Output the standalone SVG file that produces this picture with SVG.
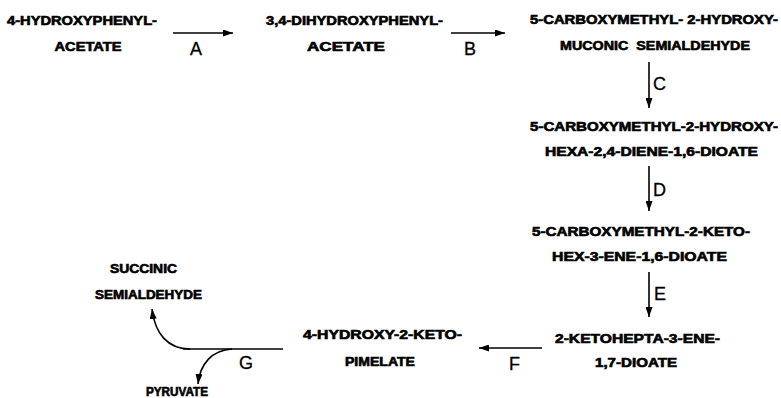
<svg xmlns="http://www.w3.org/2000/svg" width="781" height="398" viewBox="0 0 781 398">
<style>
.t{font-family:"Liberation Sans",Arial,sans-serif;font-weight:bold;font-size:12px;text-anchor:middle;fill:#000;stroke:#000;stroke-width:0.6}
.l{font-family:"Liberation Sans",Arial,sans-serif;font-size:18px;fill:#000;stroke:#000;stroke-width:0.3}
.c{stroke:#000;stroke-width:1.6;fill:none}
</style>
<defs>
<marker id="ah" markerUnits="userSpaceOnUse" markerWidth="10" markerHeight="7" refX="10" refY="3.5" orient="auto">
<path d="M0,0 L10,3.5 L0,7 z" fill="#000"/>
</marker>
</defs>
<rect width="781" height="398" fill="#fff"/>
<g id="n1"><text class="t" x="82" y="25" textLength="150" lengthAdjust="spacingAndGlyphs">4-HYDROXYPHENYL-</text><text class="t" x="88" y="51" textLength="67" lengthAdjust="spacingAndGlyphs">ACETATE</text></g>
<g id="n2"><text class="t" x="354.5" y="25" textLength="177" lengthAdjust="spacingAndGlyphs">3,4-DIHYDROXYPHENYL-</text><text class="t" x="346" y="51" textLength="78" lengthAdjust="spacingAndGlyphs">ACETATE</text></g>
<g id="n3"><text class="t" x="654" y="24" textLength="248" lengthAdjust="spacingAndGlyphs" xml:space="preserve">5-CARBOXYMETHYL- 2-HYDROXY-</text><text class="t" x="655" y="50" textLength="190" lengthAdjust="spacingAndGlyphs" xml:space="preserve">MUCONIC  SEMIALDEHYDE</text></g>
<g id="n4"><text class="t" x="654" y="131" textLength="248" lengthAdjust="spacingAndGlyphs">5-CARBOXYMETHYL-2-HYDROXY-</text><text class="t" x="651.5" y="156" textLength="213" lengthAdjust="spacingAndGlyphs">HEXA-2,4-DIENE-1,6-DIOATE</text></g>
<g id="n5"><text class="t" x="641" y="236" textLength="218" lengthAdjust="spacingAndGlyphs">5-CARBOXYMETHYL-2-KETO-</text><text class="t" x="639.5" y="261" textLength="175" lengthAdjust="spacingAndGlyphs">HEX-3-ENE-1,6-DIOATE</text></g>
<g id="n6"><text class="t" x="637.5" y="343" textLength="165" lengthAdjust="spacingAndGlyphs">2-KETOHEPTA-3-ENE-</text><text class="t" x="636" y="367" textLength="82" lengthAdjust="spacingAndGlyphs">1,7-DIOATE</text></g>
<g id="n7"><text class="t" x="382.5" y="339" textLength="159" lengthAdjust="spacingAndGlyphs">4-HYDROXY-2-KETO-</text><text class="t" x="380" y="366" textLength="70" lengthAdjust="spacingAndGlyphs">PIMELATE</text></g>
<g id="n8"><text class="t" x="143.5" y="273" textLength="67" lengthAdjust="spacingAndGlyphs">SUCCINIC</text><text class="t" x="148.5" y="299" textLength="107" lengthAdjust="spacingAndGlyphs">SEMIALDEHYDE</text></g>
<g id="n9"><text class="t" x="177" y="396" textLength="62" lengthAdjust="spacingAndGlyphs">PYRUVATE</text></g>
<g id="connectors">
<line class="c" x1="173" y1="33" x2="233" y2="33" marker-end="url(#ah)"/>
<line class="c" x1="451" y1="33" x2="505" y2="33" marker-end="url(#ah)"/>
<line class="c" x1="649" y1="62" x2="649" y2="108" marker-end="url(#ah)"/>
<line class="c" x1="649" y1="166" x2="649" y2="211" marker-end="url(#ah)"/>
<line class="c" x1="649" y1="272" x2="649" y2="317" marker-end="url(#ah)"/>
<line class="c" x1="542" y1="348" x2="479" y2="348" marker-end="url(#ah)"/>
<line class="c" x1="283" y1="349" x2="183" y2="349"/>
<path class="c" d="M190,349 C168,349 155,334 152,309" marker-end="url(#ah)"/>
<path class="c" d="M232,349 C212,350 200,364 198,384" marker-end="url(#ah)"/>
<text class="l" x="190" y="55">A</text>
<text class="l" x="464" y="55">B</text>
<text class="l" x="653" y="90">C</text>
<text class="l" x="653" y="196">D</text>
<text class="l" x="654" y="300">E</text>
<text class="l" x="509" y="370">F</text>
<text class="l" x="239" y="369">G</text>
</g>
</svg>
